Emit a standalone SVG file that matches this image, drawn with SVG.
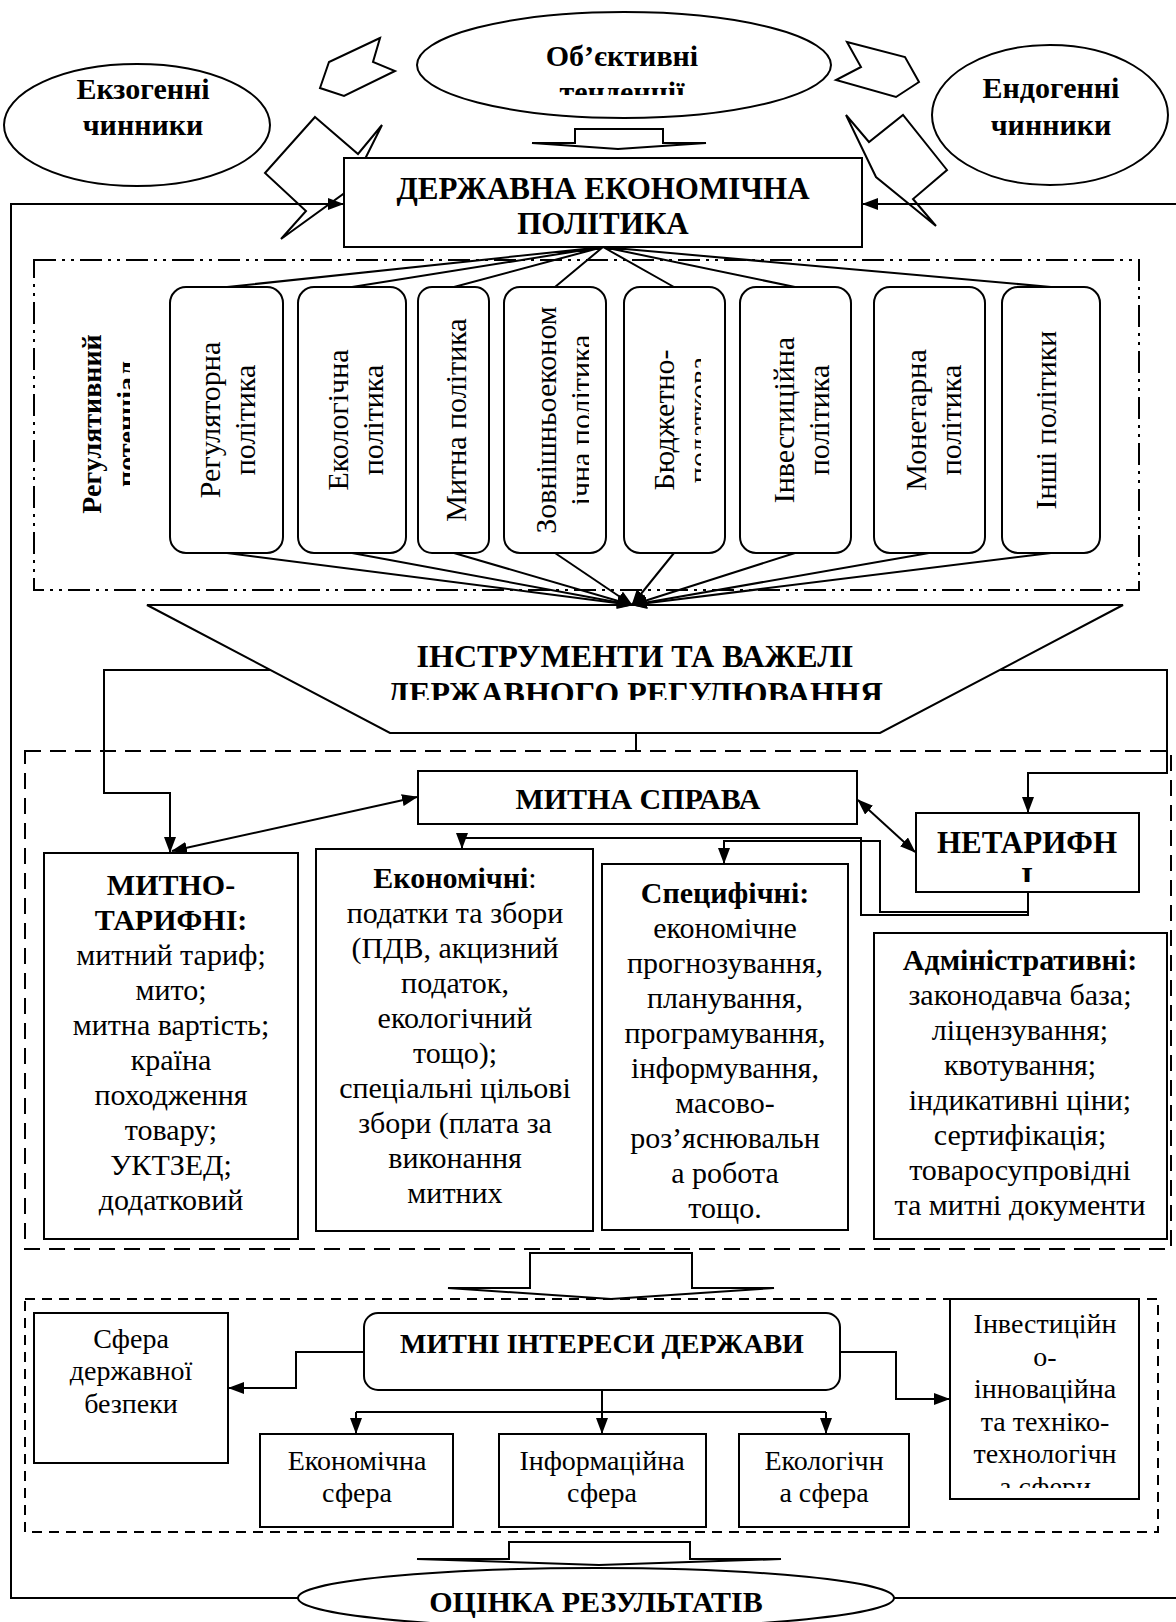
<svg xmlns="http://www.w3.org/2000/svg" width="1176" height="1622" viewBox="0 0 1176 1622">
<defs>
<style>
.s{fill:#fff;stroke:#000;stroke-width:2}
.t{font-family:"Liberation Serif","Times New Roman",serif;font-size:30px;fill:#000;text-anchor:middle}
.b{font-weight:bold}
.m{font-size:28px}
.c{fill:none;stroke:#000;stroke-width:2}
.a{marker-end:url(#ah)}
.aa{marker-start:url(#ah);marker-end:url(#ah)}
.r1{fill:none;stroke:#000;stroke-width:2;stroke-dasharray:22 6 3 6 3 6}
.r2{fill:none;stroke:#000;stroke-width:2;stroke-dasharray:16 9}
.r3{fill:none;stroke:#000;stroke-width:2;stroke-dasharray:10 7}
</style>
<marker id="ah" viewBox="0 0 16 12" refX="15" refY="6" markerWidth="16" markerHeight="12" markerUnits="userSpaceOnUse" orient="auto-start-reverse"><path d="M0,0L16,6L0,12z"/></marker>
<clipPath id="cObj" clipPathUnits="userSpaceOnUse"><rect x="418" y="0" width="410" height="95"/></clipPath>
<clipPath id="cReg" clipPathUnits="userSpaceOnUse"><rect x="34" y="260" width="96" height="330"/></clipPath>
<clipPath id="cP4" clipPathUnits="userSpaceOnUse"><rect x="504" y="287" width="85" height="266"/></clipPath>
<clipPath id="cP5" clipPathUnits="userSpaceOnUse"><rect x="624" y="287" width="77" height="266"/></clipPath>
<clipPath id="cIns" clipPathUnits="userSpaceOnUse"><rect x="147" y="605" width="976" height="95"/></clipPath>
<clipPath id="cNet" clipPathUnits="userSpaceOnUse"><rect x="916" y="813" width="223" height="69"/></clipPath>
<clipPath id="cInv" clipPathUnits="userSpaceOnUse"><rect x="950" y="1299" width="189" height="189"/></clipPath>
</defs>
<rect x="0" y="0" width="1176" height="1622" fill="#fff"/>

<g id="regions">
<rect class="r1" x="34" y="260" width="1105" height="330"/>
<rect class="r2" x="25" y="751" width="1146" height="498"/>
<rect class="r3" x="25" y="1299" width="1133" height="233"/>
</g>

<g id="decor-arrows">
<polygon class="s" points="380,38 329,62 320,88 344,96 395,71 373,62"/>
<polygon class="s" points="847,42 905,57 919,82 896,97 836,80 861,67"/>
<polygon class="s" points="315,117 358,154 382,125 350,189 281,239 306,211 265,173"/>
<polygon class="s" points="846,115 869,142 903,115 947,170 913,199 936,226 876,177"/>
<polygon class="s" points="575,129 663,129 663,143 706,143 618,149 532,143 575,143"/>
<polygon class="s" points="530,1253 692,1253 692,1288 774,1288 611,1299 448,1288 530,1288"/>
<polygon class="s" points="509,1542 690,1542 690,1559 781,1559 599,1565 417,1559 509,1559"/>
</g>

<g id="exo">
<ellipse class="s" cx="137" cy="125" rx="133" ry="61"/>
<text class="t b"><tspan x="143" y="99">Екзогенні</tspan><tspan x="143" y="135">чинники</tspan></text>
</g>
<g id="objective">
<ellipse class="s" cx="624" cy="65" rx="207" ry="53"/>
<text class="t b"><tspan x="622" y="66">Об’єктивні</tspan></text>
<g clip-path="url(#cObj)"><text class="t b" x="622" y="102">тенденції</text></g>
</g>
<g id="endo">
<ellipse class="s" cx="1050" cy="115" rx="118" ry="70"/>
<text class="t b"><tspan x="1051" y="98">Ендогенні</tspan><tspan x="1051" y="135">чинники</tspan></text>
</g>

<g id="dep">
<rect class="s" x="344" y="158" width="518" height="89"/>
<text class="t b" style="font-size:31px"><tspan x="603" y="199">ДЕРЖАВНА ЕКОНОМІЧНА</tspan><tspan x="603" y="234">ПОЛІТИКА</tspan></text>
</g>

<g id="reg-potential">
<g clip-path="url(#cReg)"><text class="t b m" transform="translate(101,424) rotate(-90)"><tspan x="0" y="0">Регулятивний</tspan><tspan x="0" y="35">потенціал</tspan></text></g>
</g>

<g id="p1"><rect class="s" x="170" y="287" width="113" height="266" rx="16"/>
<text class="t" transform="translate(220,420) rotate(-90)"><tspan x="0" y="0">Регуляторна</tspan><tspan x="0" y="35">політика</tspan></text></g>
<g id="p2"><rect class="s" x="298" y="287" width="108" height="266" rx="16"/>
<text class="t" transform="translate(348,420) rotate(-90)"><tspan x="0" y="0">Екологічна</tspan><tspan x="0" y="35">політика</tspan></text></g>
<g id="p3"><rect class="s" x="418" y="287" width="71" height="266" rx="14"/>
<text class="t" transform="translate(466,420) rotate(-90)">Митна політика</text></g>
<g id="p4"><rect class="s" x="504" y="287" width="102" height="266" rx="16"/>
<g clip-path="url(#cP4)"><text class="t" transform="translate(556,420) rotate(-90)"><tspan x="0" y="0">Зовнішньоеконом</tspan><tspan x="0" y="35">ічна політика</tspan></text></g></g>
<g id="p5"><rect class="s" x="624" y="287" width="101" height="266" rx="16"/>
<g clip-path="url(#cP5)"><text class="t" transform="translate(674,420) rotate(-90)"><tspan x="0" y="0">Бюджетно-</tspan><tspan x="0" y="35">податкова</tspan></text></g></g>
<g id="p6"><rect class="s" x="740" y="287" width="111" height="266" rx="16"/>
<text class="t" transform="translate(794,420) rotate(-90)"><tspan x="0" y="0">Інвестиційна</tspan><tspan x="0" y="35">політика</tspan></text></g>
<g id="p7"><rect class="s" x="874" y="287" width="111" height="266" rx="16"/>
<text class="t" transform="translate(926,420) rotate(-90)"><tspan x="0" y="0">Монетарна</tspan><tspan x="0" y="35">політика</tspan></text></g>
<g id="p8"><rect class="s" x="1002" y="287" width="98" height="266" rx="16"/>
<text class="t" transform="translate(1056,420) rotate(-90)">Інші політики</text></g>

<g id="instruments">
<polygon class="s" points="147,605 1123,605 880,733 390,733"/>
<text class="t b" style="font-size:32px" x="635" y="667">ІНСТРУМЕНТИ ТА ВАЖЕЛІ</text>
<g clip-path="url(#cIns)"><text class="t b" style="font-size:32px" x="635" y="704">ДЕРЖАВНОГО РЕГУЛЮВАННЯ</text></g>
</g>

<g id="mytna-sprava">
<rect class="s" x="418" y="771" width="439" height="53"/>
<text class="t b" x="638" y="809">МИТНА СПРАВА</text>
</g>

<g id="netaryfni">
<rect class="s" x="916" y="813" width="223" height="79"/>
<text class="t b" style="font-size:31px" x="1027" y="853">НЕТАРИФН</text>
<g clip-path="url(#cNet)"><text class="t b" style="font-size:31px" x="1027" y="889">І</text></g>
</g>

<g id="mytno-taryfni">
<rect class="s" x="44" y="853" width="254" height="386"/>
<text class="t"><tspan class="b" x="171" y="895">МИТНО-</tspan><tspan class="b" x="171" y="930">ТАРИФНІ:</tspan><tspan x="171" y="965">митний тариф;</tspan><tspan x="171" y="1000">мито;</tspan><tspan x="171" y="1035">митна вартість;</tspan><tspan x="171" y="1070">країна</tspan><tspan x="171" y="1105">походження</tspan><tspan x="171" y="1140">товару;</tspan><tspan x="171" y="1175">УКТЗЕД;</tspan><tspan x="171" y="1210">додатковий</tspan></text>
</g>

<g id="ekonomichni">
<rect class="s" x="316" y="849" width="277" height="382"/>
<text class="t"><tspan x="455" y="888"><tspan class="b">Економічні</tspan>:</tspan><tspan x="455" y="923">податки та збори</tspan><tspan x="455" y="958">(ПДВ, акцизний</tspan><tspan x="455" y="993">податок,</tspan><tspan x="455" y="1028">екологічний</tspan><tspan x="455" y="1063">тощо);</tspan><tspan x="455" y="1098">спеціальні цільові</tspan><tspan x="455" y="1133">збори (плата за</tspan><tspan x="455" y="1168">виконання</tspan><tspan x="455" y="1203">митних</tspan></text>
</g>

<g id="spetsyfichni">
<rect class="s" x="602" y="864" width="246" height="366"/>
<text class="t"><tspan class="b" x="725" y="903">Специфічні:</tspan><tspan x="725" y="938">економічне</tspan><tspan x="725" y="973">прогнозування,</tspan><tspan x="725" y="1008">планування,</tspan><tspan x="725" y="1043">програмування,</tspan><tspan x="725" y="1078">інформування,</tspan><tspan x="725" y="1113">масово-</tspan><tspan x="725" y="1148">роз’яснювальн</tspan><tspan x="725" y="1183">а робота</tspan><tspan x="725" y="1218">тощо.</tspan></text>
</g>

<g id="administratyvni">
<rect class="s" x="874" y="933" width="293" height="306"/>
<text class="t"><tspan class="b" x="1020" y="970">Адміністративні:</tspan><tspan x="1020" y="1005">законодавча база;</tspan><tspan x="1020" y="1040">ліцензування;</tspan><tspan x="1020" y="1075">квотування;</tspan><tspan x="1020" y="1110">індикативні ціни;</tspan><tspan x="1020" y="1145">сертифікація;</tspan><tspan x="1020" y="1180">товаросупровідні</tspan><tspan x="1020" y="1215">та митні документи</tspan></text>
</g>

<g id="sfera-bezpeky">
<rect class="s" x="34" y="1313" width="194" height="150"/>
<text class="t m"><tspan x="131" y="1348">Сфера</tspan><tspan x="131" y="1380">державної</tspan><tspan x="131" y="1413">безпеки</tspan></text>
</g>

<g id="mytni-interesy">
<rect class="s" x="364" y="1313" width="476" height="77" rx="14"/>
<text class="t b m" x="602" y="1353">МИТНІ ІНТЕРЕСИ ДЕРЖАВИ</text>
</g>

<g id="ekonomichna-sfera">
<rect class="s" x="260" y="1434" width="193" height="93"/>
<text class="t m"><tspan x="357" y="1470">Економічна</tspan><tspan x="357" y="1502">сфера</tspan></text>
</g>
<g id="informatsiyna-sfera">
<rect class="s" x="499" y="1434" width="207" height="93"/>
<text class="t m"><tspan x="602" y="1470">Інформаційна</tspan><tspan x="602" y="1502">сфера</tspan></text>
</g>
<g id="ekologichna-sfera">
<rect class="s" x="739" y="1434" width="170" height="93"/>
<text class="t m"><tspan x="824" y="1470">Екологічн</tspan><tspan x="824" y="1502">а сфера</tspan></text>
</g>
<g id="investytsiyna-sfera">
<rect class="s" x="950" y="1299" width="189" height="200"/>
<g clip-path="url(#cInv)"><text class="t m"><tspan x="1045" y="1333">Інвестиційн</tspan><tspan x="1045" y="1366">о-</tspan><tspan x="1045" y="1398">інноваційна</tspan><tspan x="1045" y="1431">та техніко-</tspan><tspan x="1045" y="1463">технологічн</tspan><tspan x="1045" y="1496">а сфери</tspan></text></g>
</g>

<g id="otsinka">
<ellipse class="s" cx="596" cy="1598" rx="298" ry="30"/>
<text class="t b" x="596" y="1612">ОЦІНКА РЕЗУЛЬТАТІВ</text>
</g>

<g id="connectors">
<path class="c a" d="M298,1598 H11 V204 H343"/>
<path class="c" d="M894,1598 H1176"/>
<path class="c a" d="M1176,204 H863"/>
<path class="c" d="M603,247 L227,287 M603,247 L352,287 M603,247 L454,287 M603,247 L555,287 M603,247 L674,287 M603,247 L795,287 M603,247 L1051,287"/>
<path class="c a" d="M227,553 L632,605"/>
<path class="c a" d="M352,553 L632,605"/>
<path class="c a" d="M454,553 L632,605"/>
<path class="c a" d="M555,553 L632,605"/>
<path class="c a" d="M674,553 L632,605"/>
<path class="c a" d="M795,553 L632,605"/>
<path class="c a" d="M929,553 L632,605"/>
<path class="c a" d="M1051,553 L632,605"/>
<path class="c" d="M636,733 V751"/>
<path class="c a" d="M270,670 H104 V793 H170 V852"/>
<path class="c a" d="M1000,670 H1167 V773 H1028 V812"/>
<path class="c aa" d="M417,797 L172,851"/>
<path class="c aa" d="M858,800 L915,852"/>
<path class="c a" d="M1028,892 V915 H861 V838 H462 V848"/>
<path class="c a" d="M1028,892 V912 H880 V841 H724 V863"/>
<path class="c a" d="M364,1352 H296 V1388 H229"/>
<path class="c a" d="M840,1352 H896 V1399 H949"/>
<path class="c" d="M602,1390 V1412 M356,1412 H826"/>
<path class="c a" d="M356,1412 V1433"/>
<path class="c a" d="M602,1412 V1433"/>
<path class="c a" d="M826,1412 V1433"/>
</g>
</svg>
